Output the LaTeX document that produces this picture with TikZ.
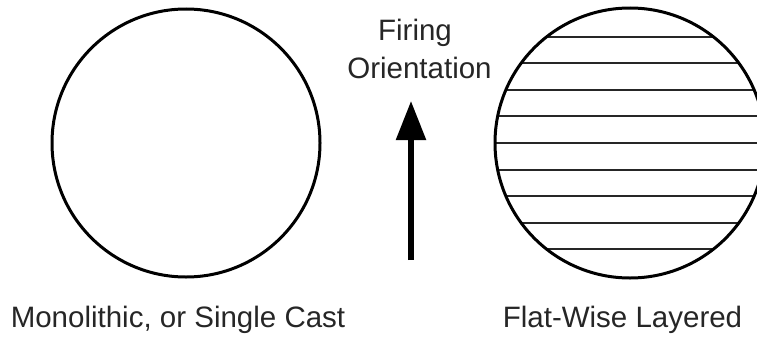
\documentclass[tikz,border=0pt]{standalone}
\usepackage{fontspec}
\setmainfont{Liberation Sans}
\usetikzlibrary{arrows.meta}
\begin{document}
\begin{tikzpicture}[x=1pt,y=-1pt,
  lbl/.style={anchor=base,inner sep=0pt,text=black!85,font=\fontsize{29.5}{34}\selectfont},
  disc/.style={circle,draw=black,line width=3pt,minimum size=268pt,inner sep=0pt},
  hatchline/.style={line width=2pt,draw=black!85}]
\useasboundingbox (0,0) rectangle (757,340);
\begin{scope}
\clip (0,0) rectangle (757,340);
\node[disc] (mono) at (186,143) {};
\node[disc,minimum size=270pt,path picture={
  \foreach \k in {-4,...,4}
    \draw[hatchline] ([xshift=-160pt,yshift=\k*26.6pt]path picture bounding box.center) -- ++(320pt,0);
}] (layered) at (630,143) {};
\end{scope}
\node[lbl] (firing) at (415,40) {Firing};
\node[lbl] (orient) at (419.5,78) {Orientation};
\coordinate (tail) at (411,260);
\coordinate (tip) at (411,101);
\draw[line width=5.5pt,-{Triangle[length=39pt,width=29pt]}] (tail) -- (tip);
\node[lbl] (monolbl) at (178,327) {Monolithic, or Single Cast};
\node[lbl] (laylbl) at (622.5,327) {Flat-Wise Layered};
\end{tikzpicture}
\end{document}
